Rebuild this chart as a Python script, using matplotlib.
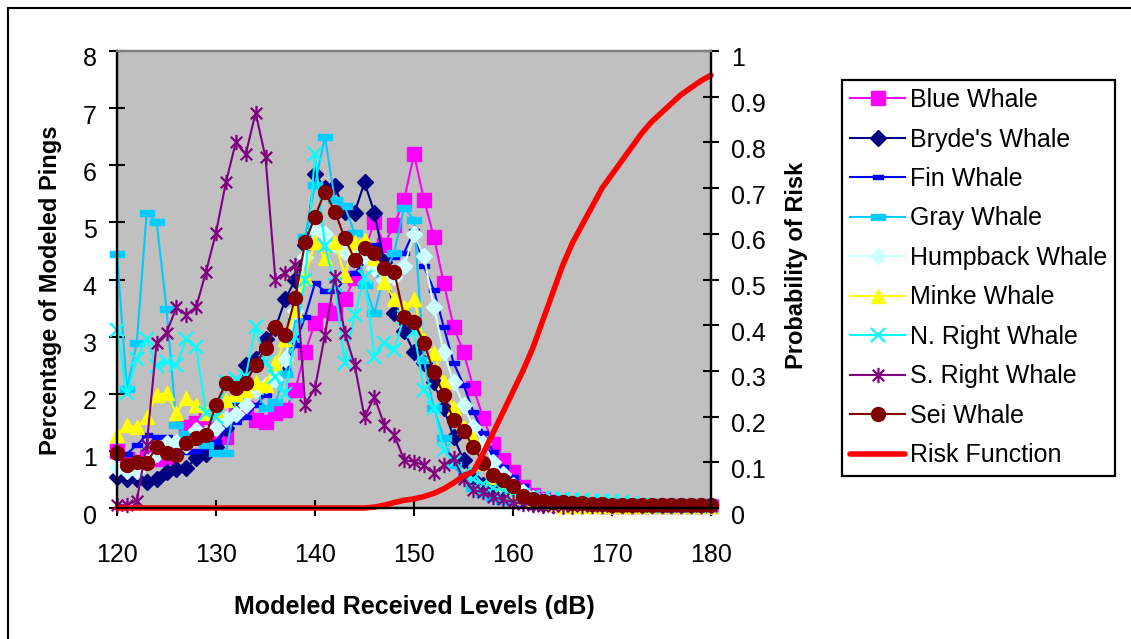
import matplotlib
matplotlib.use("Agg")
import matplotlib.pyplot as plt
from matplotlib.path import Path
from matplotlib.patches import Rectangle
from matplotlib.transforms import ScaledTranslation

plt.rcParams['font.family'] = ['Liberation Sans', 'DejaVu Sans']

# received level categories (dB)
levels = list(range(120, 181))

blue = [1.00, 0.85, 0.80, 0.90, 0.85, 0.90, 1.10, 1.42, 1.49, 1.59,
        1.24, 1.24, 1.66, 1.75, 1.54, 1.51, 1.66, 1.71, 2.07, 2.73,
        3.24, 3.47, 3.41, 3.65, 4.03, 4.50, 5.01, 4.61, 4.96, 5.40,
        6.19, 5.40, 4.75, 3.94, 3.17, 2.73, 2.10, 1.58, 1.12, 0.84,
        0.63, 0.37, 0.23, 0.15, 0.10, 0.08, 0.06, 0.05, 0.05, 0.04,
        0.04, 0.04, 0.04, 0.04, 0.04, 0.04, 0.04, 0.04, 0.04, 0.04,
        0.04]
brydes = [0.55, 0.50, 0.50, 0.45, 0.50, 0.63, 0.68, 0.70, 0.88, 0.95,
          1.07, 1.40, 1.85, 2.50, 2.60, 2.95, 3.15, 3.65, 4.00, 4.60,
          5.84, 5.60, 5.63, 5.19, 5.17, 5.70, 5.17, 4.30, 3.41, 3.09,
          2.73, 2.54, 2.20, 1.75, 1.24, 0.84, 0.51, 0.40, 0.33, 0.25,
          0.18, 0.12, 0.09, 0.07, 0.05, 0.04, 0.04, 0.03, 0.03, 0.03,
          0.03, 0.03, 0.03, 0.03, 0.03, 0.03, 0.03, 0.03, 0.03, 0.03,
          0.03]
fin = [0.95, 0.95, 1.10, 1.28, 1.25, 1.25, 1.10, 0.98, 1.00, 1.05,
       1.15, 1.40, 1.50, 1.60, 1.80, 1.98, 2.20, 2.45, 2.85, 3.35,
       3.94, 3.79, 3.79, 4.00, 4.11, 4.30, 4.60, 4.20, 4.40, 4.47,
       4.85, 4.23, 3.82, 3.17, 2.54, 2.16, 1.68, 1.31, 0.98, 0.72,
       0.55, 0.38, 0.25, 0.15, 0.10, 0.07, 0.05, 0.05, 0.05, 0.05,
       0.04, 0.04, 0.04, 0.04, 0.04, 0.04, 0.04, 0.04, 0.04, 0.04,
       0.04]
gray = [4.44, 2.09, 2.89, 5.17, 5.01, 3.49, 1.45, 1.30, 1.20, 1.10,
        0.96, 0.96, 1.90, 2.10, 2.05, 1.75, 1.85, 2.35, 3.30, 4.75,
        5.66, 6.50, 5.40, 5.28, 4.81, 3.91, 3.41, 4.10, 4.47, 5.26,
        5.05, 2.59, 1.75, 1.23, 0.75, 0.50, 0.35, 0.25, 0.18, 0.12,
        0.10, 0.07, 0.05, 0.05, 0.04, 0.04, 0.04, 0.04, 0.04, 0.04,
        0.03, 0.03, 0.03, 0.03, 0.03, 0.03, 0.03, 0.03, 0.03, 0.03,
        0.03]
humpback = [0.70, 0.65, 0.65, 0.80, 0.95, 1.14, 1.15, 1.10, 1.37, 1.30,
            1.40, 1.55, 1.65, 1.80, 2.07, 2.15, 2.25, 2.60, 3.45, 4.40,
            4.86, 4.79, 4.60, 4.49, 4.55, 4.40, 4.20, 4.00, 4.05, 4.23,
            4.79, 4.41, 3.52, 2.73, 2.20, 1.81, 1.41, 1.14, 0.80, 0.60,
            0.40, 0.28, 0.18, 0.12, 0.08, 0.05, 0.05, 0.04, 0.04, 0.04,
            0.04, 0.04, 0.04, 0.04, 0.04, 0.04, 0.04, 0.04, 0.04, 0.04,
            0.04]
minke = [1.28, 1.45, 1.42, 1.59, 1.98, 2.01, 1.66, 1.93, 1.81, 1.66,
         1.71, 1.89, 2.00, 2.07, 2.21, 2.16, 2.54, 2.95, 3.47, 4.05,
         4.65, 4.38, 4.66, 4.08, 4.65, 4.70, 4.38, 3.96, 3.65, 3.51,
         3.65, 2.94, 2.71, 2.21, 1.75, 1.42, 1.23, 0.79, 0.55, 0.40,
         0.28, 0.20, 0.14, 0.10, 0.07, 0.04, 0.04, 0.03, 0.03, 0.03,
         0.03, 0.03, 0.03, 0.03, 0.03, 0.03, 0.03, 0.03, 0.03, 0.03,
         0.03]
n_right = [3.12, 2.01, 2.61, 2.95, 2.49, 2.56, 2.50, 2.95, 2.81, 1.66,
           1.60, 2.20, 2.25, 2.30, 3.17, 2.55, 2.30, 2.00, 3.00, 4.00,
           6.19, 4.58, 3.91, 2.54, 3.38, 4.05, 2.65, 2.89, 2.77, 3.35,
           3.09, 2.07, 1.75, 1.01, 0.80, 0.60, 0.50, 0.42, 0.35, 0.30,
           0.25, 0.22, 0.20, 0.18, 0.15, 0.15, 0.14, 0.14, 0.13, 0.13,
           0.12, 0.10, 0.08, 0.06, 0.04, 0.04, 0.04, 0.04, 0.04, 0.04,
           0.04]
s_right = [0.05, 0.05, 0.13, 1.10, 2.89, 3.07, 3.51, 3.38, 3.52, 4.14,
           4.82, 5.70, 6.40, 6.19, 6.92, 6.14, 4.00, 4.12, 4.26, 1.81,
           2.10, 3.03, 4.05, 3.07, 2.51, 1.59, 1.95, 1.45, 1.28, 0.84,
           0.81, 0.75, 0.61, 0.75, 0.87, 0.51, 0.31, 0.28, 0.19, 0.15,
           0.10, 0.07, 0.05, 0.03, 0.03, 0.03, 0.03, 0.03, 0.03, 0.03,
           0.03, 0.03, 0.03, 0.03, 0.03, 0.03, 0.03, 0.03, 0.03, 0.03,
           0.03]
sei = [0.96, 0.75, 0.81, 0.79, 1.07, 0.96, 0.93, 1.14, 1.23, 1.28,
       1.81, 2.19, 2.10, 2.19, 2.51, 2.80, 3.16, 3.03, 3.68, 4.65,
       5.10, 5.54, 5.19, 4.73, 4.35, 4.56, 4.47, 4.21, 4.14, 3.35,
       3.26, 2.89, 2.38, 1.98, 1.54, 1.35, 1.07, 0.79, 0.58, 0.49,
       0.38, 0.21, 0.16, 0.12, 0.10, 0.10, 0.08, 0.08, 0.07, 0.07,
       0.06, 0.06, 0.06, 0.06, 0.06, 0.06, 0.06, 0.06, 0.06, 0.06,
       0.06]
risk = [0, 0, 0, 0, 0, 0, 0, 0, 0, 0,
        0, 0, 0, 0, 0, 0, 0, 0, 0, 0,
        0, 0, 0, 0, 0, 0, 0.002, 0.006, 0.012, 0.017,
        0.02, 0.025, 0.032, 0.042, 0.055, 0.07, 0.08, 0.12, 0.165, 0.21,
        0.255, 0.30, 0.35, 0.41, 0.47, 0.53, 0.58, 0.62, 0.66, 0.70,
        0.73, 0.76, 0.79, 0.82, 0.845, 0.865, 0.885, 0.905, 0.92, 0.935,
        0.947]

# Excel-like markers
dash_small = Path([(-1, -0.45), (1, -0.45), (1, 0.45), (-1, 0.45), (-1, -0.45)],
                  [Path.MOVETO, Path.LINETO, Path.LINETO, Path.LINETO, Path.CLOSEPOLY])
dash_wide = Path([(-1, -0.4), (1, -0.4), (1, 0.4), (-1, 0.4), (-1, -0.4)],
                 [Path.MOVETO, Path.LINETO, Path.LINETO, Path.LINETO, Path.CLOSEPOLY])
star = Path([(0, -1), (0, 1), (-0.75, -0.75), (0.75, 0.75), (-0.75, 0.75), (0.75, -0.75)],
            [Path.MOVETO, Path.LINETO, Path.MOVETO, Path.LINETO, Path.MOVETO, Path.LINETO])

series = [
    ("Blue Whale", blue, "#FF00FF", "s", 10, {}),
    ("Bryde's Whale", brydes, "#000080", "D", 8, {}),
    ("Fin Whale", fin, "#0000FF", dash_small, 7, {}),
    ("Gray Whale", gray, "#00CCFF", dash_wide, 10, {}),
    ("Humpback Whale", humpback, "#CCFFFF", "D", 8, {}),
    ("Minke Whale", minke, "#FFFF00", "^", 10, {}),
    ("N. Right Whale", n_right, "#00FFFF", "x", 10, {"mew": 1.6}),
    ("S. Right Whale", s_right, "#800080", star, 11, {"mew": 1.6, "mfc": "none"}),
    ("Sei Whale", sei, "#800000", "o", 10, {}),
]

fig = plt.figure(figsize=(11.31, 6.39), dpi=100)
ax = fig.add_axes([117 / 1131, 1 - 508 / 639, 594 / 1131, 457 / 639])
ax.set_facecolor("#C0C0C0")

handles = []
for name, vals, col, mk, ms, extra in series:
    ln, = ax.plot(levels, vals, color=col, lw=1.5, marker=mk, ms=ms,
                  mec=col, mfc=extra.get("mfc", col), mew=extra.get("mew", 1.0),
                  clip_on=False, label=name)
    handles.append(ln)

ax.set_xlim(120, 180)
ax.set_ylim(0, 8)
ax.set_xticks(range(120, 181, 10))
ax.set_yticks(range(0, 9))

ax2 = ax.twinx()
rl, = ax2.plot(levels, risk, color="#FF0000", lw=4, solid_capstyle="round",
               label="Risk Function", clip_on=False)
handles.append(rl)
ax2.set_ylim(0, 1)
ax2.set_yticks([i / 10 for i in range(11)])
ax2.set_yticklabels(["0", "0.1", "0.2", "0.3", "0.4", "0.5", "0.6", "0.7", "0.8", "0.9", "1"])

for a in (ax, ax2):
    for s in a.spines.values():
        s.set_linewidth(1.6)
        s.set_color("black")
    a.spines["top"].set_color("#808080")
    a.tick_params(direction="inout", length=11, width=1.5, labelsize=18)
ax.tick_params(axis="y", pad=9)
ax.tick_params(axis="x", pad=19.5)
ax2.tick_params(axis="y", pad=9)

# Excel draws the value labels a little below their tick marks
shift = ScaledTranslation(0, -6 / 100, fig.dpi_scale_trans)
for lab in ax.get_yticklabels() + ax2.get_yticklabels():
    lab.set_transform(lab.get_transform() + shift)

ax.set_xlabel("Modeled Received Levels (dB)", fontsize=18, fontweight="bold")
ax.xaxis.set_label_coords(0.5, -0.19)
ax.set_ylabel("Percentage of Modeled Pings", fontsize=17, fontweight="bold")
ax.yaxis.set_label_coords(-0.092, 0.477)
ax2.set_ylabel("Probability of Risk", fontsize=17, fontweight="bold")
ax2.yaxis.set_label_coords(1.125, 0.53)

leg = fig.legend(handles=handles, loc="upper left",
                 bbox_to_anchor=(842 / 1131, 1 - 80 / 639), borderaxespad=0,
                 fontsize=18, frameon=True, fancybox=False, framealpha=1,
                 handlelength=2.2, handletextpad=0.2, labelspacing=0.62,
                 borderpad=0.32)
leg.get_frame().set_edgecolor("black")
leg.get_frame().set_linewidth(1.6)

# outer chart border
fig.patches.append(Rectangle((8 / 1131, -0.05), 1.2, 1 - 8 / 639 + 0.05,
                             transform=fig.transFigure, fill=False,
                             edgecolor="black", linewidth=1.5))

fig.savefig("out.png", dpi=100)
